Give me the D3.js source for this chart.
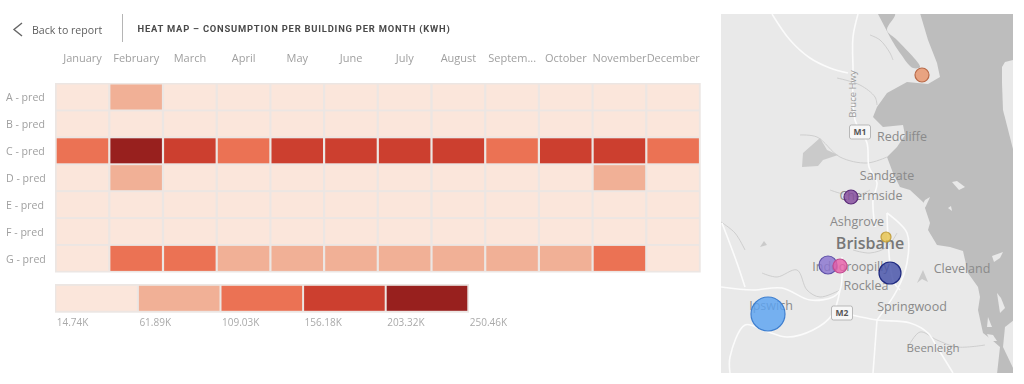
<!DOCTYPE html>
<html><head><meta charset="utf-8">
<script src="https://cdn.jsdelivr.net/npm/d3@7/dist/d3.min.js"></script>
<style>html,body{margin:0;background:#fff;overflow:hidden}svg{display:block;filter:blur(.45px)}</style>
</head><body><svg id="c" width="1024" height="384"></svg>
<script>
const months=["January","February","March","April","May","June","July","August","Septem...","October","November","December"];
const rows=["A - pred","B - pred","C - pred","D - pred","E - pred","F - pred","G - pred"];
const A=[20,62,20,19,20,19,18,19,18,18,19,19];
const B=[16,17,16,16,16,16,16,16,16,16,16,16];
const C=[125,240,170,125,175,170,172,172,125,170,175,120];
const D=[20,65,18,18,18,18,18,18,18,18,70,18];
const E=[16,16,16,16,16,16,16,16,16,16,16,16];
const F=[16,16,16,16,16,16,16,16,16,16,16,16];
const G=[22,118,120,70,72,72,70,70,72,70,118,22];
const legendTicks=["14.74K","61.89K","109.03K","156.18K","203.32K","250.46K"];
const legendBreaks=[14.74,61.89,109.03,156.18,203.32,250.46];
const palette=["#fbe6db","#f1b096","#eb7254","#cc3f2f","#98201e"];
const heat=[A,B,C,D,E,F,G];

const bubbleNames=["Ipswich","Indooroopilly W","Indooroopilly E","South","Brisbane","Chermside","Redcliffe N"];
const bubbleX=[768,828,840,890,886,851,922];
const bubbleY=[314,265,266,273,237,197,75];
const bubbleSize=[289,81,49,121,25,49,49];
const bubbleFill=["#5ba4f2","#8a74cf","#e65fa8","#4450a8","#e8c44e","#844a9c","#e8946a"];
const bubbleStroke=["#3f7fcf","#5e50a8","#c24a90","#1f2a80","#c2a040","#5a2a78","#b86a48"];

const water=[[920,13],[1014,13],[1014,374],[997,374],[1000,347],[992,340],[983,333],[978,310],[980,297],[978,287],[968,273],[963,251],[950,247],[937,245],[928,230],[930,223],[923,202],[910,190],[900,187],[893,173],[887,157],[897,147],[905,135],[903,125],[883,127],[873,117],[877,107],[887,93],[907,82],[928,84],[940,77],[937,63],[928,40]];
const lagoon=[[878,14],[895,14],[887,30],[897,40],[920,67],[913,68],[900,53],[890,37]];
const islands=[
[[1002,67],[1005,62],[1013,60],[1014,153],[1003,110],[1002,83]],
[[952,182],[957,181],[965,187],[959,190]],
[[948,208],[951,206],[952,211]],
[[992,256],[1003,252],[1000,258],[994,262]],
[[997,293],[1000,313],[1005,308],[1001,298]],
[[988,317],[992,327],[987,327]],
[[1005,327],[1014,320],[1014,370],[1003,347]],
[[987,334],[993,335],[997,341],[990,341]],
[[918,212],[925,200],[930,197],[926,206],[921,214]]
];
const lakes=[
[[803,153],[820,138],[827,150],[838,155],[823,160],[818,166],[802,167]],
[[923,270],[917,283],[922,279],[928,282]],
[[764,241],[760,247],[767,245]]
];
const rivers=[
[[870,35],[880,40],[890,53],[893,60]],
[[837,78],[860,85],[875,97],[877,105]],
[[800,135],[817,137],[840,157],[867,163],[887,157]],
[[762,273],[777,277],[797,270],[807,290],[820,297],[840,290]],
[[853,250],[870,253],[887,247],[897,233]],
[[908,347],[920,332],[937,340],[957,347],[985,345]],
[[721,222],[735,233],[745,250]],
[[830,190],[855,196],[870,190]]
];
const roads=[
[[772,14],[790,40],[810,58],[830,68],[848,73]],
[[858,14],[853,37],[853,67],[855,120],[867,143],[869,167],[877,183],[873,200],[875,227]],
[[721,287],[753,290],[782,288],[810,300],[833,297],[840,290],[842,257]],
[[722,223],[737,263],[745,287]],
[[730,373],[730,357],[745,325],[763,330],[787,337],[813,330],[832,315],[840,290]],
[[852,315],[877,320],[910,323],[928,333],[937,347],[953,373]],
[[877,320],[873,373]],
[[887,213],[907,233],[907,263],[897,290],[877,320]],
[[887,213],[893,280],[900,290]]
];
const mapLabels=[["Redcliffe",902,141,12.5,"#8a8a8a"],["Sandgate",887,180,12.5,"#8a8a8a"],["Chermside",871,200,12.5,"#8a8a8a"],["Ashgrove",857,226,12.5,"#8a8a8a"],["Brisbane",870,249,16,"#777"],["Indooroopilly",851,271,12.5,"#8a8a8a"],["Rocklea",866,290,12.5,"#8a8a8a"],["Cleveland",962,273,12.5,"#8a8a8a"],["Springwood",912,311,12.5,"#8a8a8a"],["Ipswich",771,310,12.5,"#8a8a8a"],["Beenleigh",933,352,11.5,"#8a8a8a"]];

const svg=d3.select("#c");
const font="'Open Sans','Noto Sans',sans-serif";
const x=d3.scaleBand().domain(months).range([55.7,700.1]);
const y=d3.scaleBand().domain(rows).range([83.5,271.8]);
const color=d3.scaleThreshold().domain(legendBreaks.slice(1,5)).range(palette);

// header
svg.append("path").attr("d",d3.line()([[22,23],[14,29.5],[22,36]])).attr("fill","none").attr("stroke","#666").attr("stroke-width",1.4);
svg.append("text").attr("x",32).attr("y",34).attr("font-family",font).attr("font-size",10.6).attr("fill","#5f5f5f").text("Back to report");
svg.append("line").attr("x1",122.5).attr("x2",122.5).attr("y1",14).attr("y2",42).attr("stroke","#b5b5b5");
svg.append("text").attr("x",137.5).attr("y",32).attr("font-family","Roboto,sans-serif").attr("font-weight",700).attr("font-size",9.4).attr("letter-spacing",.79).attr("fill","#4a4a4a").text("HEAT MAP – CONSUMPTION PER BUILDING PER MONTH (KWH)");

// heat map
svg.append("rect").attr("x",55).attr("y",83).attr("width",645.7).attr("height",189.5).attr("fill","#ece6e3");
svg.append("g").selectAll("text").data(months).join("text")
 .attr("x",d=>x(d)+x.bandwidth()/2).attr("y",62).attr("text-anchor","middle")
 .attr("font-family",font).attr("font-size",11).attr("fill","#a0a0a0").text(d=>d);
svg.append("g").selectAll("text").data(rows).join("text")
 .attr("x",6).attr("y",d=>y(d)+y.bandwidth()/2+4.5)
 .attr("font-family",font).attr("font-size",10.6).attr("fill","#a0a0a0").text(d=>d);
heat.forEach((r,i)=>{
 svg.append("g").selectAll("rect").data(r).join("rect")
  .attr("x",(d,j)=>x(months[j])+1).attr("y",y(rows[i])+1)
  .attr("width",x.bandwidth()-2.2).attr("height",25)
  .attr("fill",d=>color(d));
});

// legend
const lx=d3.scalePoint().domain(legendTicks).range([55.3,468.3]);
svg.append("rect").attr("x",55).attr("y",284).attr("width",414).attr("height",28.7).attr("fill","#ece6e3");
svg.append("g").selectAll("rect").data(palette).join("rect")
 .attr("x",(d,i)=>lx(legendTicks[i])+1).attr("y",285.8).attr("width",lx.step()-2).attr("height",25).attr("fill",d=>d);
svg.append("g").selectAll("text").data(legendTicks).join("text")
 .attr("x",d=>lx(d)+1.5).attr("y",325.5).attr("font-family",font).attr("font-size",10).attr("fill","#aaa").text(d=>d);

// map
const mx=d3.scaleLinear().domain([721,1013]).range([721,1013]);
const my=d3.scaleLinear().domain([14,373]).range([14,373]);
const ln=d3.line().x(d=>mx(d[0])).y(d=>my(d[1]));
const smooth=d3.line().x(d=>mx(d[0])).y(d=>my(d[1])).curve(d3.curveCatmullRom);
svg.append("clipPath").attr("id","m").append("rect").attr("x",721).attr("y",14).attr("width",292).attr("height",359);
const m=svg.append("g").attr("clip-path","url(#m)");
m.append("rect").attr("x",721).attr("y",14).attr("width",292).attr("height",359).attr("fill","#e9e9e9");
m.append("path").attr("d",ln(water)+"Z").attr("fill","#bdbdbd");
m.append("path").attr("d",smooth(lagoon)+"Z").attr("fill","#bdbdbd");
islands.forEach(p=>m.append("path").attr("d",ln(p)+"Z").attr("fill","#e9e9e9"));
lakes.forEach(p=>m.append("path").attr("d",ln(p)+"Z").attr("fill","#cacaca"));
rivers.forEach(p=>m.append("path").attr("d",smooth(p)).attr("fill","none").attr("stroke","#cbcbcb").attr("stroke-width",.9));
roads.forEach(r=>m.append("path").attr("d",smooth(r)).attr("fill","none").attr("stroke","#fbfbfb").attr("stroke-width",1.6));
m.selectAll("text.l").data(mapLabels).join("text").attr("class","l")
 .attr("x",d=>d[1]).attr("y",d=>d[2]).attr("text-anchor","middle").attr("font-family",font)
 .attr("font-size",d=>d[3]).attr("font-weight",d=>d[0]==="Brisbane"?600:400).attr("fill",d=>d[4]).text(d=>d[0]);
m.append("text").attr("transform","translate(856,94) rotate(-90)").attr("text-anchor","middle").attr("font-family",font).attr("font-size",9.5).attr("fill","#999").text("Bruce Hwy");
[["M1",860,132],["M2",842,313]].forEach(s=>{
 m.append("rect").attr("x",s[1]-10.5).attr("y",s[2]-7).attr("width",21).attr("height",14).attr("rx",2).attr("fill","#f7f7f7").attr("stroke","#aaa").attr("stroke-width",.8);
 m.append("text").attr("x",s[1]).attr("y",s[2]+3).attr("text-anchor","middle").attr("font-family",font).attr("font-weight",700).attr("font-size",8.5).attr("fill","#555").text(s[0]);
});
const r=d3.scaleSqrt().domain([0,289]).range([0,17]);
m.selectAll("circle").data(bubbleNames).join("circle")
 .attr("cx",(d,i)=>mx(bubbleX[i])).attr("cy",(d,i)=>my(bubbleY[i])).attr("r",(d,i)=>r(bubbleSize[i]))
 .attr("fill",(d,i)=>bubbleFill[i]).attr("fill-opacity",.82).attr("stroke",(d,i)=>bubbleStroke[i]).attr("stroke-width",1.2);
</script></body></html>
